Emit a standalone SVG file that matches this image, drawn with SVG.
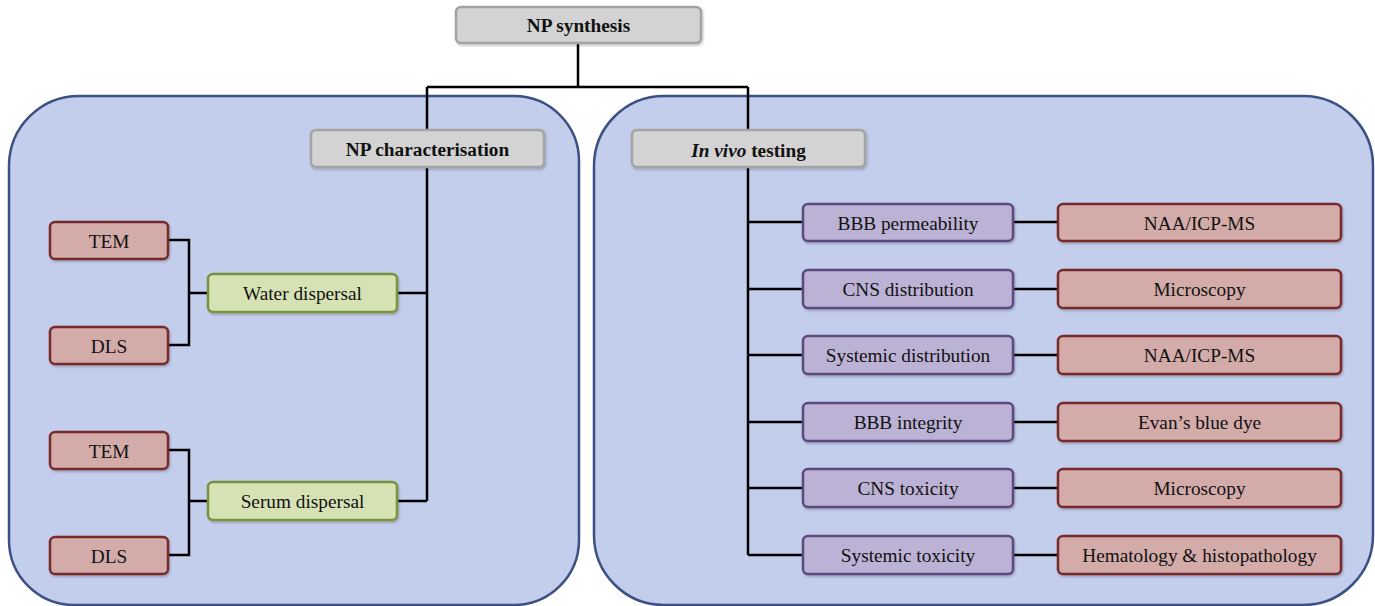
<svg xmlns="http://www.w3.org/2000/svg" width="1375" height="606" viewBox="0 0 1375 606">
<defs>
<filter id="sh" x="-10%" y="-20%" width="120%" height="150%">
<feDropShadow dx="1" dy="1.5" stdDeviation="1" flood-color="#000" flood-opacity="0.25"/>
</filter>
<style>
text{font-family:"Liberation Serif","Times New Roman",serif;font-size:19.3px;fill:#111;text-anchor:middle;dominant-baseline:central}
.b{font-weight:bold}
.panel{fill:#c3cdec;stroke:#3b5185;stroke-width:2.5}
.gray{fill:#d3d3d3;stroke:#a3a3a3;stroke-width:2.5;filter:url(#sh)}
.red{fill:#d3aba9;stroke:#772b2b;stroke-width:2.5;filter:url(#sh)}
.green{fill:#d6e2b4;stroke:#77933c;stroke-width:2.5;filter:url(#sh)}
.purple{fill:#bcb2d5;stroke:#5b4a7d;stroke-width:2.5;filter:url(#sh)}
.c{fill:none;stroke:#000;stroke-width:2.5}
</style>
</defs>
<rect width="1375" height="606" fill="#fff"/>
<g id="panel-left"><path class="panel" d="M9,165 A70,70 0 0 1 79,96 H514 A65,65 0 0 1 579,161 V540 A65,65 0 0 1 514,605 H74 A65,65 0 0 1 9,540 Z"/></g>
<g id="panel-right"><path class="panel" d="M594,166 A70,70 0 0 1 664,96 H1303 A70,70 0 0 1 1373,166 V535 A70,70 0 0 1 1303,605 H664 A70,70 0 0 1 594,535 Z"/></g>
<g id="connectors">
<path class="c" d="M578,43 V87 M427,87 H748 M427,87 V130 M748,87 V130"/>
<path class="c" d="M427,168 V501 M397,293 H427 M397,501 H427"/>
<path class="c" d="M168,240 H189 V345 H168 M189,293 H208"/>
<path class="c" d="M168,450 H189 V555 H168 M189,501 H208"/>
<path class="c" d="M748,168 V555 M748,222 H803 M748,289 H803 M748,355 H803 M748,422 H803 M748,488 H803 M748,555 H803"/>
<path class="c" d="M1013,222 H1058 M1013,289 H1058 M1013,355 H1058 M1013,422 H1058 M1013,488 H1058 M1013,555 H1058"/>
</g>
<g id="np-synthesis"><rect class="gray" x="456" y="7" width="245" height="36" rx="5"/><text class="b" x="578.5" y="25.5">NP synthesis</text></g>
<g id="np-characterisation"><rect class="gray" x="311" y="130" width="233" height="37" rx="5"/><text class="b" x="427.5" y="149.5">NP characterisation</text></g>
<g id="in-vivo-testing"><rect class="gray" x="632" y="130" width="233" height="37" rx="5"/><text x="748.5" y="149.5"><tspan font-weight="bold" font-style="italic">In vivo</tspan><tspan font-weight="bold"> testing</tspan></text></g>
<g id="tem-1"><rect class="red" x="50" y="222" width="118" height="37" rx="5"/><text x="109" y="241">TEM</text></g>
<g id="dls-1"><rect class="red" x="50" y="327" width="118" height="37" rx="5"/><text x="109" y="346">DLS</text></g>
<g id="water-dispersal"><rect class="green" x="208" y="274" width="189" height="38" rx="5"/><text x="302.5" y="293.5">Water dispersal</text></g>
<g id="tem-2"><rect class="red" x="50" y="432" width="118" height="37" rx="5"/><text x="109" y="451">TEM</text></g>
<g id="dls-2"><rect class="red" x="50" y="537" width="118" height="37" rx="5"/><text x="109" y="556">DLS</text></g>
<g id="serum-dispersal"><rect class="green" x="208" y="482" width="189" height="38" rx="5"/><text x="302.5" y="501.5">Serum dispersal</text></g>
<g id="bbb-permeability"><rect class="purple" x="803" y="204" width="210" height="37" rx="5"/><text x="908" y="223">BBB permeability</text></g>
<g id="naa-1"><rect class="red" x="1058" y="204" width="283" height="37" rx="5"/><text x="1199.5" y="223">NAA/ICP-MS</text></g>
<g id="cns-distribution"><rect class="purple" x="803" y="270" width="210" height="38" rx="5"/><text x="908" y="289.5">CNS distribution</text></g>
<g id="microscopy-1"><rect class="red" x="1058" y="270" width="283" height="38" rx="5"/><text x="1199.5" y="289.5">Microscopy</text></g>
<g id="systemic-distribution"><rect class="purple" x="803" y="336" width="210" height="38" rx="5"/><text x="908" y="355.5">Systemic distribution</text></g>
<g id="naa-2"><rect class="red" x="1058" y="336" width="283" height="38" rx="5"/><text x="1199.5" y="355.5">NAA/ICP-MS</text></g>
<g id="bbb-integrity"><rect class="purple" x="803" y="403" width="210" height="38" rx="5"/><text x="908" y="422.5">BBB integrity</text></g>
<g id="evans-blue"><rect class="red" x="1058" y="403" width="283" height="38" rx="5"/><text x="1199.5" y="422.5">Evan’s blue dye</text></g>
<g id="cns-toxicity"><rect class="purple" x="803" y="469" width="210" height="38" rx="5"/><text x="908" y="488.5">CNS toxicity</text></g>
<g id="microscopy-2"><rect class="red" x="1058" y="469" width="283" height="38" rx="5"/><text x="1199.5" y="488.5">Microscopy</text></g>
<g id="systemic-toxicity"><rect class="purple" x="803" y="536" width="210" height="38" rx="5"/><text x="908" y="555.5">Systemic toxicity</text></g>
<g id="hematology"><rect class="red" x="1058" y="536" width="283" height="38" rx="5"/><text x="1199.5" y="555.5">Hematology &amp; histopathology</text></g>
</svg>
